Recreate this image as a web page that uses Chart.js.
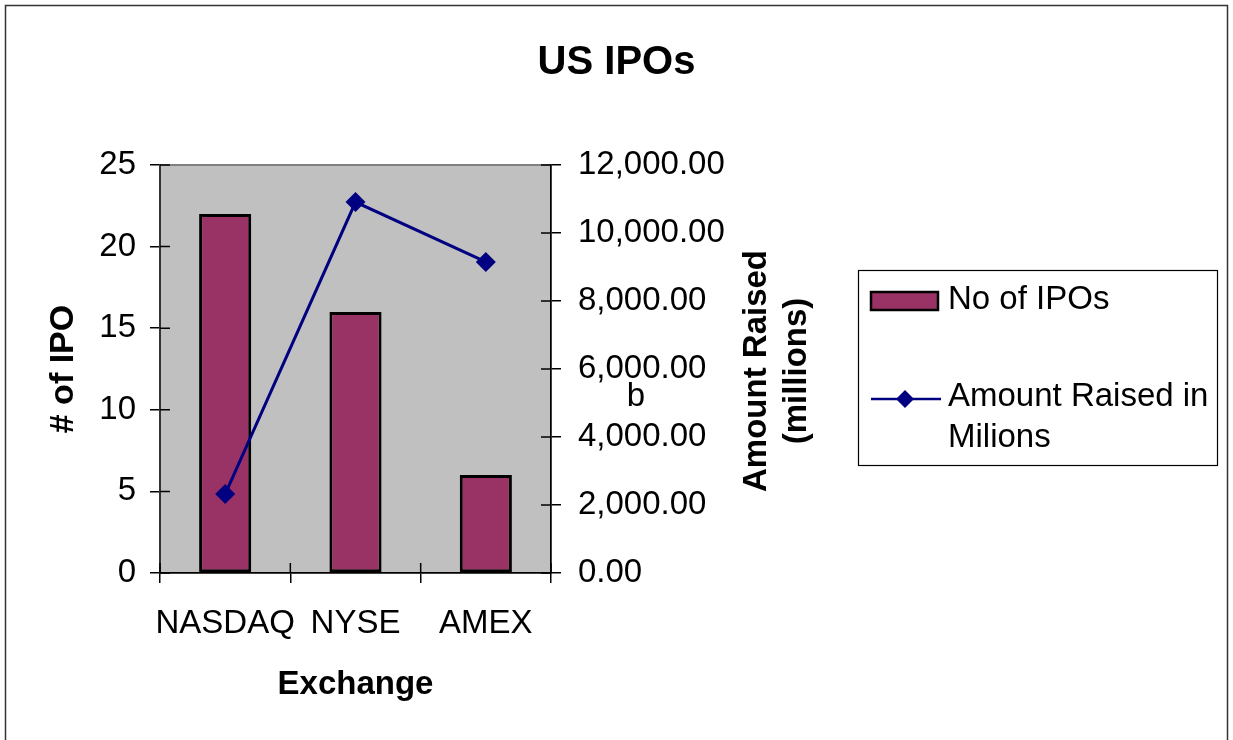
<!DOCTYPE html>
<html>
<head>
<meta charset="utf-8">
<script src="https://cdn.jsdelivr.net/npm/chart.js@4"></script>
<style>
  html, body { margin: 0; padding: 0; background: #fff; }
</style>
</head>
<body>
<canvas id="chart" width="1233" height="740"></canvas>
<script>
// data
const exchanges = ['NASDAQ', 'NYSE', 'AMEX'];
const ipoCounts = [22, 16, 6];
const amountRaised = [2320, 10910, 9150];
const ipoLabel = 'No of IPOs';
const amountLabel = ['Amount Raised in', 'Milions'];
const rightTitle = ['Amount Raised', '(millions)'];

const FONT = 'Arial, "Liberation Sans", sans-serif';
const BAR = '#993366';
const NAVY = '#000080';

// draws the frame, grey plot area, inner tick halves, legend and right axis title
const extras = {
  id: 'extras',
  beforeDraw(chart) {
    const { ctx, chartArea: a } = chart;
    ctx.save();
    ctx.fillStyle = '#fff';
    ctx.fillRect(0, 0, chart.width, chart.height);
    ctx.strokeStyle = '#333';
    ctx.lineWidth = 1.5;
    ctx.strokeRect(5.5, 5.5, 1222, 800);
    ctx.fillStyle = '#c0c0c0';
    ctx.fillRect(a.left, a.top, a.right - a.left, a.bottom - a.top);
    ctx.strokeStyle = '#808080';
    ctx.lineWidth = 2;
    ctx.strokeRect(a.left, a.top, a.right - a.left, a.bottom - a.top);
    ctx.restore();
  },
  afterDraw(chart) {
    const { ctx, chartArea: a, scales } = chart;
    ctx.save();
    ctx.strokeStyle = '#000';
    ctx.lineWidth = 1.5;
    ctx.beginPath();
    scales.y.ticks.forEach((t, i) => {
      const py = scales.y.getPixelForTick(i);
      ctx.moveTo(a.left, py); ctx.lineTo(a.left + 10, py);
    });
    scales.y1.ticks.forEach((t, i) => {
      const py = scales.y1.getPixelForTick(i);
      ctx.moveTo(a.right - 10, py); ctx.lineTo(a.right, py);
    });
    for (let i = 0; i <= exchanges.length; i++) {
      const px = scales.x.getPixelForValue(i - 0.5);
      ctx.moveTo(px, a.bottom - 10); ctx.lineTo(px, a.bottom);
    }
    ctx.stroke();

    // right axis title, reading bottom to top
    ctx.fillStyle = '#000';
    ctx.font = 'bold 33px ' + FONT;
    ctx.textAlign = 'center';
    ctx.textBaseline = 'middle';
    ctx.translate(777, 371);
    ctx.rotate(-Math.PI / 2);
    ctx.fillText(rightTitle[0], 0, -20);
    ctx.fillText(rightTitle[1], 0, 20);
    ctx.setTransform(1, 0, 0, 1, 0, 0);

    // stray character on the original
    ctx.font = '33px ' + FONT;
    ctx.fillText('b', 636, 397);

    // legend
    ctx.strokeStyle = '#000';
    ctx.lineWidth = 1.2;
    ctx.strokeRect(858.5, 270.5, 359, 195);
    ctx.fillStyle = BAR;
    ctx.fillRect(871, 292, 67, 18);
    ctx.lineWidth = 2.5;
    ctx.strokeRect(871, 292, 67, 18);
    ctx.strokeStyle = NAVY;
    ctx.beginPath();
    ctx.moveTo(871, 399); ctx.lineTo(941, 399);
    ctx.stroke();
    ctx.fillStyle = NAVY;
    ctx.beginPath();
    ctx.moveTo(905, 390); ctx.lineTo(914, 399); ctx.lineTo(905, 408); ctx.lineTo(896, 399);
    ctx.closePath(); ctx.fill();
    ctx.fillStyle = '#000';
    ctx.font = '33px ' + FONT;
    ctx.textAlign = 'left';
    ctx.fillText(ipoLabel, 948, 300);
    ctx.fillText(amountLabel[0], 948, 397);
    ctx.fillText(amountLabel[1], 948, 438);
    ctx.restore();
  }
};

new Chart(document.getElementById('chart'), {
  type: 'bar',
  data: {
    labels: exchanges,
    datasets: [
      {
        type: 'line',
        label: amountLabel.join(' '),
        data: amountRaised,
        yAxisID: 'y1',
        borderColor: NAVY,
        backgroundColor: NAVY,
        borderWidth: 3,
        pointStyle: 'rectRot',
        pointRadius: 10,
        pointBorderWidth: 0,
        order: 0
      },
      {
        label: ipoLabel,
        data: ipoCounts,
        yAxisID: 'y',
        backgroundColor: BAR,
        borderColor: '#000',
        borderWidth: 3,
        borderSkipped: false,
        categoryPercentage: 1,
        barPercentage: 0.4,
        order: 1
      }
    ]
  },
  options: {
    responsive: false,
    animation: false,
    devicePixelRatio: 1,
    layout: { padding: { left: 0, right: 0, top: 0, bottom: 0 } },
    plugins: {
      legend: { display: false },
      tooltip: { enabled: false },
      title: {
        display: true,
        text: 'US IPOs',
        color: '#000',
        font: { family: FONT, size: 40, weight: 'bold', lineHeight: 1.2 },
        padding: { top: 39, bottom: 78 }
      }
    },
    scales: {
      x: {
        afterFit(s) { s.height = 167; },
        grid: { offset: true, drawOnChartArea: false, tickLength: 10, color: '#000', lineWidth: 1.5 },
        border: { color: '#000', width: 1.5 },
        ticks: { color: '#000', padding: 21, autoSkip: false, maxRotation: 0, font: { family: FONT, size: 33 } },
        title: {
          display: true, text: 'Exchange', color: '#000',
          font: { family: FONT, size: 33, weight: 'bold', lineHeight: 1.2 },
          padding: { top: 0, bottom: 35 }
        }
      },
      y: {
        position: 'left',
        min: 0, max: 25,
        afterFit(s) { s.width = 160; },
        grid: { drawOnChartArea: false, tickLength: 10, color: '#000', lineWidth: 1.5 },
        border: { color: '#333', width: 2 },
        ticks: { stepSize: 5, color: '#000', padding: 14, font: { family: FONT, size: 33 } },
        title: {
          display: true, text: '# of IPO', color: '#000',
          font: { family: FONT, size: 34, weight: 'bold', lineHeight: 1.2 },
          padding: { top: 43, bottom: 0 }
        }
      },
      y1: {
        position: 'right',
        min: 0, max: 12000,
        afterFit(s) { s.width = 682; },
        grid: { drawOnChartArea: false, tickLength: 10, color: '#000', lineWidth: 1.5 },
        border: { color: '#000', width: 1.5 },
        ticks: {
          stepSize: 2000, color: '#000', padding: 17,
          font: { family: FONT, size: 33 },
          callback: v => v.toLocaleString('en-US', { minimumFractionDigits: 2, maximumFractionDigits: 2 })
        }
      }
    }
  },
  plugins: [extras]
});
</script>
</body>
</html>
